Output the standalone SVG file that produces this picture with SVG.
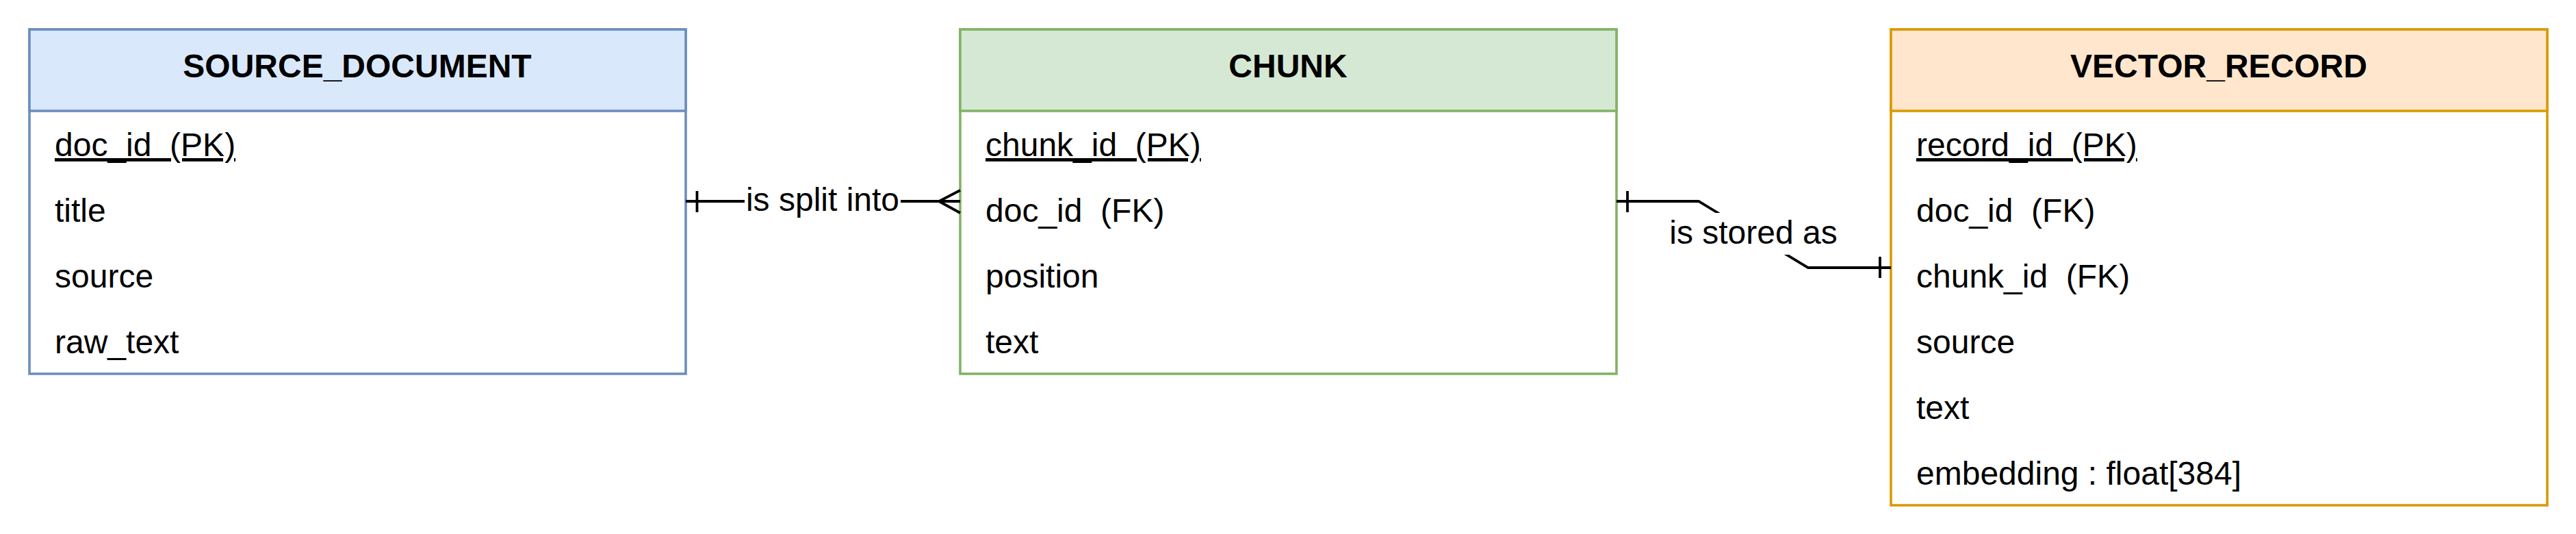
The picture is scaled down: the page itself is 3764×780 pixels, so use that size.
<svg xmlns="http://www.w3.org/2000/svg" width="3764" height="780" viewBox="0 0 3764 780">
<style>
text{font-family:"Liberation Sans",Arial,Helvetica,sans-serif;font-size:48px;fill:#000;white-space:pre}
.title{font-weight:bold;text-anchor:middle}
.pk{text-decoration:underline}
.edge{fill:none;stroke:#000;stroke-width:3.8}
.lblbg{fill:#fff;stroke:none}
.lbl{text-anchor:middle}
.body{fill:#fff;stroke-width:3.6}
.hdr{stroke-width:3.6}
</style>
<rect width="3764" height="780" fill="#fff"/>
<g id="source_document">
<rect class="body" x="43" y="43" width="959" height="503" stroke="#6c8ebf"/>
<rect class="hdr" x="43" y="43" width="959" height="119" fill="#dae8fc" stroke="#6c8ebf"/>
<text class="title" x="522" y="113">SOURCE_DOCUMENT</text>
<text class="pk" x="80" y="228">doc_id  (PK)</text>
<text x="80" y="324">title</text>
<text x="80" y="420">source</text>
<text x="80" y="516">raw_text</text>
</g>
<g id="chunk">
<rect class="body" x="1403" y="43" width="959" height="503" stroke="#82b366"/>
<rect class="hdr" x="1403" y="43" width="959" height="119" fill="#d5e8d4" stroke="#82b366"/>
<text class="title" x="1882" y="113">CHUNK</text>
<text class="pk" x="1440" y="228">chunk_id  (PK)</text>
<text x="1440" y="324">doc_id  (FK)</text>
<text x="1440" y="420">position</text>
<text x="1440" y="516">text</text>
</g>
<g id="vector_record">
<rect class="body" x="2763" y="43" width="959" height="695" stroke="#d79b00"/>
<rect class="hdr" x="2763" y="43" width="959" height="119" fill="#ffe6cc" stroke="#d79b00"/>
<text class="title" x="3242" y="113">VECTOR_RECORD</text>
<text class="pk" x="2800" y="228">record_id  (PK)</text>
<text x="2800" y="324">doc_id  (FK)</text>
<text x="2800" y="420">chunk_id  (FK)</text>
<text x="2800" y="516">source</text>
<text x="2800" y="612">text</text>
<text x="2800" y="708">embedding : float[384]</text>
</g>
<g id="connectors">
<g id="edge_split">
<path class="edge" d="M1002 294 H1403"/>
<path class="edge" d="M1018.5 279 V310"/>
<path class="edge" d="M1403 278 L1372 294 L1403 311"/>
<rect class="lblbg" x="1088" y="266" width="228" height="56"/>
<text class="lbl" x="1202" y="308">is split into</text>
</g>
<g id="edge_stored">
<path class="edge" d="M2362 294 H2482 L2642 391 H2763"/>
<path class="edge" d="M2378 279 V310"/>
<path class="edge" d="M2747 375 V406"/>
<rect class="lblbg" x="2437" y="311" width="250" height="61"/>
<text class="lbl" x="2562" y="356">is stored as</text>
</g>
</g>
</svg>
